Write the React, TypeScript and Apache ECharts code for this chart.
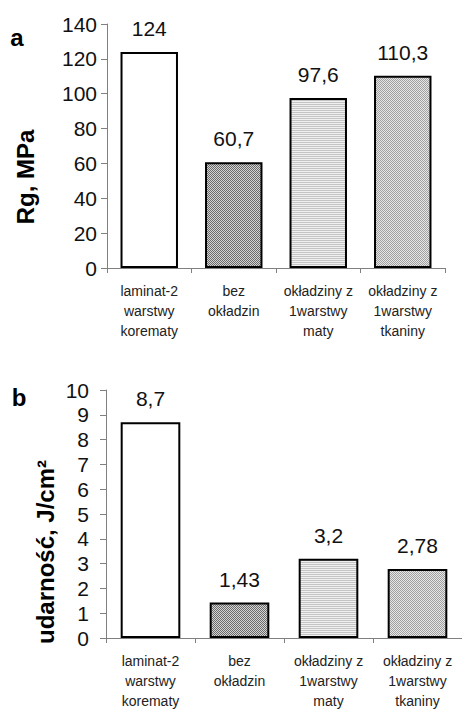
import React, { useEffect, useRef } from "react";
import * as echarts from "echarts";

const categories = [
  "laminat-2\nwarstwy\nkorematy",
  "bez\nokładzin",
  "okładziny z\n1warstwy\nmaty",
  "okładziny z\n1warstwy\ntkaniny",
];
const strengthValues = [124, 60.7, 97.6, 110.3];
const impactValues = [8.7, 1.43, 3.2, 2.78];
const strengthTicks = { min: 0, max: 140, interval: 20 };
const impactTicks = { min: 0, max: 10, interval: 1 };
const strengthTitle = "Rg, MPa";
const impactTitle = "udarność, J/cm²";

function makePattern(kind: number): any {
  const c = document.createElement("canvas");
  if (kind === 0) return "#ffffff";
  if (kind === 1) {
    c.width = 2; c.height = 2;
    const ctx = c.getContext("2d")!;
    ctx.fillStyle = "#d4d4d4"; ctx.fillRect(0, 0, 2, 2);
    ctx.fillStyle = "#6a6a6a"; ctx.fillRect(0, 0, 1, 1); ctx.fillRect(1, 1, 1, 1);
  } else if (kind === 2) {
    c.width = 2; c.height = 2;
    const ctx = c.getContext("2d")!;
    ctx.fillStyle = "#f0f0f0"; ctx.fillRect(0, 0, 2, 2);
    ctx.fillStyle = "#c4c4c4"; ctx.fillRect(0, 0, 2, 1);
  } else {
    c.width = 2; c.height = 2;
    const ctx = c.getContext("2d")!;
    ctx.fillStyle = "#e6e6e6"; ctx.fillRect(0, 0, 2, 2);
    ctx.fillStyle = "#a0a0a0"; ctx.fillRect(0, 0, 1, 1); ctx.fillRect(1, 1, 1, 1);
  }
  return { image: c, repeat: "repeat" };
}

export default function App() {
  const ref = useRef<HTMLDivElement>(null);
  useEffect(() => {
    if (!ref.current) return;
    const chart = echarts.init(ref.current, null, { renderer: "svg" });
    const fills = [0, 1, 2, 3].map(makePattern);
    const font = "Liberation Sans, Arial, sans-serif";
    const fmt = (p: any) => String(p.value).replace(".", ",");
    const xAxisCommon = {
      type: "category",
      data: categories,
      axisLine: { lineStyle: { color: "#808080", width: 1 } },
      axisTick: { show: true, length: 5, lineStyle: { color: "#808080" } },
      axisLabel: {
        color: "#222",
        fontFamily: font,
        fontSize: 14,
        lineHeight: 20,
        margin: 13,
        interval: 0,
      },
    };
    const yAxisCommon = {
      type: "value",
      splitLine: { show: false },
      axisLine: { show: true, lineStyle: { color: "#808080", width: 1 } },
      axisTick: { show: true, length: 6, lineStyle: { color: "#808080" } },
    };
    const seriesData = (vals: number[]) =>
      vals.map((v, i) => ({
        value: v,
        itemStyle: { color: fills[i], borderColor: "#000", borderWidth: 2 },
      }));
    const valueLabel = {
      show: true,
      position: "top",
      distance: 13,
      formatter: fmt,
      color: "#111",
      fontFamily: font,
      fontSize: 21,
    };
    chart.setOption({
      animation: false,
      backgroundColor: "#fff",
      grid: [
        { left: 107, right: 17, top: 24, height: 244 },
        { left: 106, right: 0, top: 390, height: 252 },
      ],
      xAxis: [
        { ...xAxisCommon, gridIndex: 0 },
        { ...xAxisCommon, gridIndex: 1 },
      ],
      yAxis: [
        {
          ...yAxisCommon,
          gridIndex: 0,
          ...strengthTicks,
          axisLabel: { color: "#111", fontFamily: font, fontSize: 21, margin: 10 },
        },
        {
          ...yAxisCommon,
          gridIndex: 1,
          ...impactTicks,
          axisLabel: { color: "#111", fontFamily: font, fontSize: 21, margin: 17 },
        },
      ],
      series: [
        {
          type: "bar",
          xAxisIndex: 0,
          yAxisIndex: 0,
          barWidth: "68%",
          data: seriesData(strengthValues),
          label: valueLabel,
        },
        {
          type: "bar",
          xAxisIndex: 1,
          yAxisIndex: 1,
          barWidth: "67%",
          data: seriesData(impactValues),
          label: valueLabel,
        },
      ],
      graphic: [
        {
          type: "text",
          x: 17,
          y: 37,
          style: { text: "a", font: `bold 24px ${font}`, fill: "#000", textAlign: "center", textVerticalAlign: "middle" },
        },
        {
          type: "text",
          x: 19,
          y: 397,
          style: { text: "b", font: `bold 24px ${font}`, fill: "#000", textAlign: "center", textVerticalAlign: "middle" },
        },
        {
          type: "text",
          x: 25,
          y: 177,
          rotation: Math.PI / 2,
          style: { text: strengthTitle, font: `bold 24px ${font}`, fill: "#000", textAlign: "center", textVerticalAlign: "middle" },
        },
        {
          type: "text",
          x: 45,
          y: 552,
          rotation: Math.PI / 2,
          style: { text: impactTitle, font: `bold 24px ${font}`, fill: "#000", textAlign: "center", textVerticalAlign: "middle" },
        },
      ],
    });
    return () => chart.dispose();
  }, []);
  return (
    <div
      ref={ref}
      style={{ position: "fixed", left: 0, top: 0, width: 462, height: 711 }}
    />
  );
}
